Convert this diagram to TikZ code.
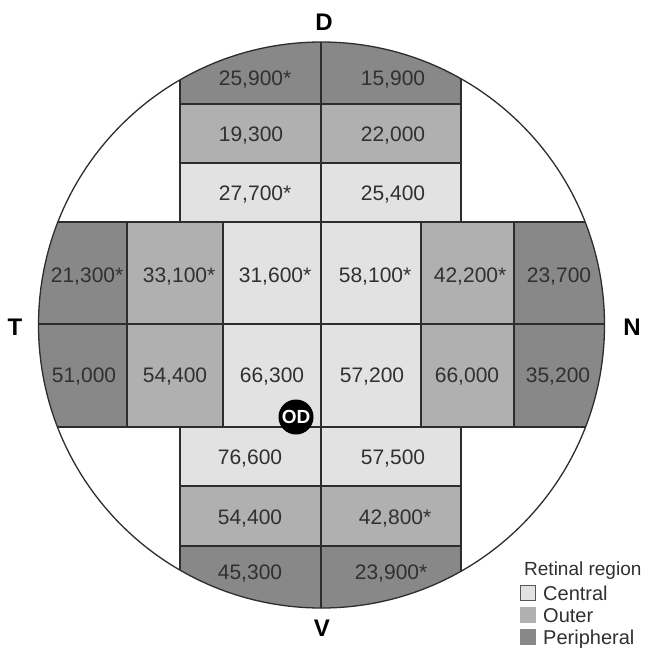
\documentclass[tikz,border=0pt]{standalone}
\usepackage{fontspec}
\setmainfont{Liberation Sans}
\definecolor{periph}{RGB}{136,136,136}
\definecolor{outerg}{RGB}{176,176,176}
\definecolor{centralg}{RGB}{226,226,226}
\definecolor{linegray}{RGB}{45,45,45}
\definecolor{txtgray}{RGB}{48,48,48}
\begin{document}
\begin{tikzpicture}[x=1pt,y=-1pt,
  gridline/.style={draw=linegray, line width=1.3pt},
  val/.style={text=txtgray, font=\fontsize{21}{24}\selectfont, inner sep=0pt, anchor=base, yshift=-7.5pt},
  side/.style={text=black, font=\fontsize{24}{28}\selectfont\bfseries, inner sep=0pt, anchor=base, yshift=-8.6pt},
  legtext/.style={text=txtgray, font=\fontsize{20}{23}\selectfont, inner sep=0pt, anchor=base west, yshift=-7.1pt},
  legbox/.style={draw=linegray!80, line width=0.8pt, minimum size=15pt, inner sep=0pt}
]
\useasboundingbox (0,0) rectangle (645,648);
\coordinate (C) at (321.5,325);

% fields, clipped to the retina outline
\begin{scope}
  \clip (C) circle[radius=283pt];
  % peripheral
  \fill[periph] (180,0) rectangle (461,104);
  \fill[periph] (180,546) rectangle (461,648);
  \fill[periph] (0,222) rectangle (127,427);
  \fill[periph] (514,222) rectangle (645,427);
  % outer
  \fill[outerg] (180,104) rectangle (461,163);
  \fill[outerg] (180,486) rectangle (461,546);
  \fill[outerg] (127,222) rectangle (223,427);
  \fill[outerg] (421,222) rectangle (514,427);
  % central
  \fill[centralg] (180,163) rectangle (461,222);
  \fill[centralg] (180,427) rectangle (461,486);
  \fill[centralg] (223,222) rectangle (421,427);
  % grid lines
  \draw[gridline] (180,0) -- (180,222) (461,0) -- (461,222);
  \draw[gridline] (180,427) -- (180,648) (461,427) -- (461,648);
  \draw[gridline] (321,0) -- (321,648);
  \draw[gridline] (180,104) -- (461,104) (180,163) -- (461,163);
  \draw[gridline] (180,486) -- (461,486) (180,546) -- (461,546);
  \draw[gridline] (0,222) -- (645,222) (0,324) -- (645,324) (0,427) -- (645,427);
  \draw[gridline] (127,222) -- (127,427) (223,222) -- (223,427)
                  (421,222) -- (421,427) (514,222) -- (514,427);
\end{scope}
\draw[linegray, line width=1.3pt] (C) circle[radius=283pt];

% dorsal strip
\node[val] (d1a) at (251,78)  {25,900\rlap{*}};
\node[val] (d1b) at (393,78)  {15,900};
\node[val] (d2a) at (251,134) {19,300};
\node[val] (d2b) at (393,134) {22,000};
\node[val] (d3a) at (251,193) {27,700\rlap{*}};
\node[val] (d3b) at (393,193) {25,400};

% horizontal band, upper row
\node[val] (h1a) at (83,275)  {21,300\rlap{*}};
\node[val] (h1b) at (175,275) {33,100\rlap{*}};
\node[val] (h1c) at (271,275) {31,600\rlap{*}};
\node[val] (h1d) at (371,275) {58,100\rlap{*}};
\node[val] (h1e) at (466,275) {42,200\rlap{*}};
\node[val] (h1f) at (559,275) {23,700};
% horizontal band, lower row
\node[val] (h2a) at (84,375)  {51,000};
\node[val] (h2b) at (175,375) {54,400};
\node[val] (h2c) at (272,375) {66,300};
\node[val] (h2d) at (372,375) {57,200};
\node[val] (h2e) at (467,375) {66,000};
\node[val] (h2f) at (558,375) {35,200};

% ventral strip
\node[val] (v1a) at (250,457) {76,600};
\node[val] (v1b) at (393,457) {57,500};
\node[val] (v2a) at (250,517) {54,400};
\node[val] (v2b) at (391,517) {42,800\rlap{*}};
\node[val] (v3a) at (250,572) {45,300};
\node[val] (v3b) at (387,572) {23,900\rlap{*}};

% optic disc
\node[circle, fill=black, minimum size=35pt, inner sep=0pt,
      text=white, font=\fontsize{19}{22}\selectfont\bfseries] (od) at (296,417) {OD};

% orientation letters
\node[side] (dl) at (324,22)  {D};
\node[side] (tl) at (15,327)  {T};
\node[side] (nl) at (632,327) {N};
\node[side] (vl) at (322,628) {V};

% legend
\node[legtext, font=\fontsize{19}{22}\selectfont] (lt) at (524,568) {Retinal region};
\node[legbox, fill=centralg] (lc) at (528,593) {};
\node[legbox, fill=outerg, draw=outerg] (lo) at (528,615) {};
\node[legbox, fill=periph, draw=periph] (lp) at (528,637) {};
\node[legtext] (lct) at (543,593) {Central};
\node[legtext] (lot) at (543,615) {Outer};
\node[legtext] (lpt) at (543,637) {Peripheral};
\end{tikzpicture}
\end{document}
